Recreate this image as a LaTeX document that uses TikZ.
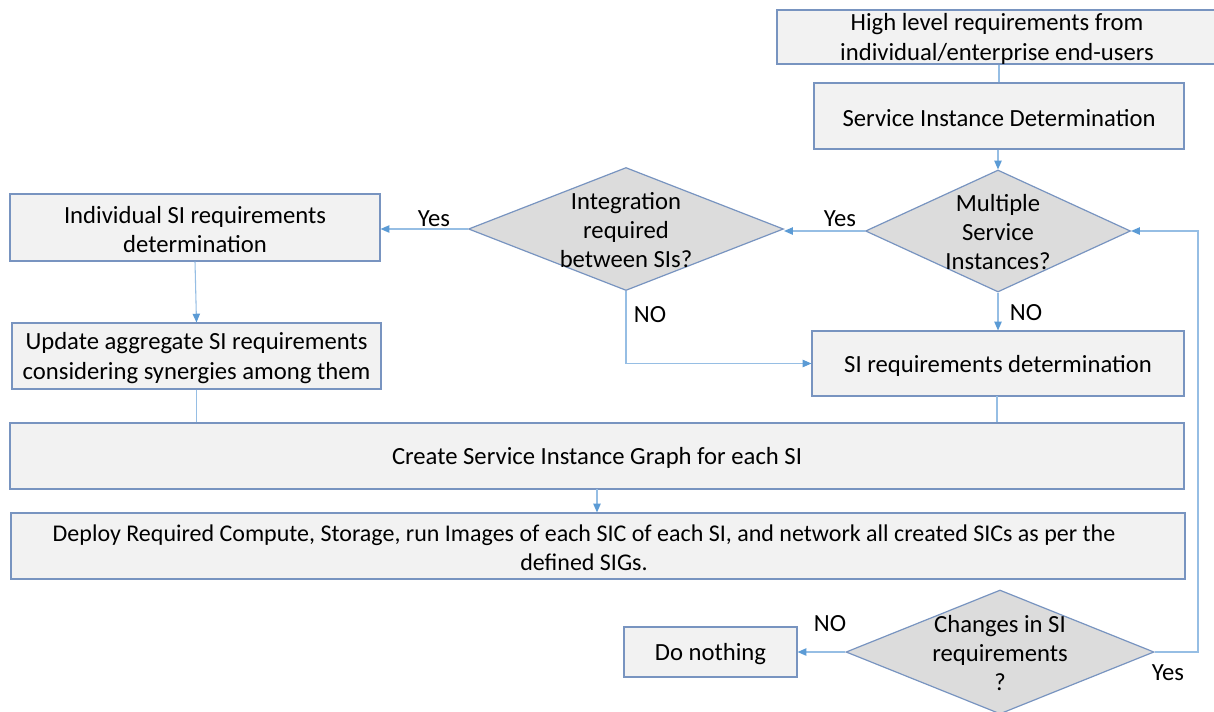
\documentclass[tikz,border=0pt]{standalone}
\usepackage{fontspec}
\setmainfont{Carlito}
\usetikzlibrary{arrows.meta,shapes.geometric}
\newdimen\pxu \pxu=0.75pt
\definecolor{boxfill}{RGB}{242,242,242}
\definecolor{boxborder}{RGB}{120,148,192}
\definecolor{diafill}{RGB}{220,220,220}
\definecolor{lineblue}{RGB}{150,190,228}
\definecolor{tipblue}{RGB}{91,155,213}
\tikzset{
  box/.style={draw=boxborder, fill=boxfill, line width=0.9pt, inner sep=0pt, align=center},
  dia/.style={diamond, draw=boxborder, fill=diafill, line width=0.9pt, inner sep=0pt, shape aspect=2},
  txt/.style={inner sep=0pt, align=center},
  conn/.style={draw=lineblue, line width=0.8pt},
  arr/.style={conn, -{Triangle[length=6.5pt,width=5.5pt,color=tipblue,fill=tipblue]}},
  lab/.style={inner sep=0pt}
}
\begin{document}
\begin{tikzpicture}[x=0.75pt,y=-0.75pt, font=\fontsize{18.5}{22}\selectfont]
\useasboundingbox[fill=white] (0,0) rectangle (1214,711);

% boxes
\node[box, minimum width={440\pxu}, minimum height={54\pxu}] (hl) at (997,37) {};
\node[txt] (hltxt) at (997,39) {High level requirements from\\individual/enterprise end-users};
\node[box, minimum width={370\pxu}, minimum height={66\pxu}] (sid) at (999,116) {};
\node[txt] (sidtxt) at (999,118) {Service Instance Determination};
\node[box, minimum width={370\pxu}, minimum height={67\pxu}] (indiv) at (195,227.5) {};
\node[txt] (indivtxt) at (195,229.5) {Individual SI requirements\\determination};
\node[box, minimum width={369\pxu}, minimum height={66\pxu}] (update) at (196.5,356) {};
\node[txt] (updatetxt) at (196.5,358) {Update aggregate SI requirements\\considering synergies among them};
\node[box, minimum width={372\pxu}, minimum height={65\pxu}] (sireq) at (998,363.5) {};
\node[txt] (sireqtxt) at (998,365.5) {SI requirements determination};
\node[box, minimum width={1174\pxu}, minimum height={66\pxu}] (create) at (597,456) {};
\node[txt] (createtxt) at (597,458) {Create Service Instance Graph for each SI};
\node[box, minimum width={1174\pxu}, minimum height={66\pxu}] (deploy) at (598,546) {};
\node[txt, font=\fontsize{18}{22}\selectfont] (deploytxt) at (584,548) {Deploy Required Compute, Storage, run Images of each SIC of each SI, and network all created SICs as per the\\defined SIGs.};
\node[box, minimum width={173\pxu}, minimum height={50\pxu}] (nothing) at (710.5,652) {};
\node[txt] (nothingtxt) at (710.5,654) {Do nothing};

% diamonds
\node[dia, minimum width={265\pxu}, minimum height={122\pxu}] (multi) at (998,231) {};
\node[txt] (multitxt) at (998,232) {Multiple\\Service\\Instances?};
\node[dia, minimum width={315\pxu}, minimum height={123\pxu}] (integ) at (626,229) {};
\node[txt] (integtxt) at (626,230) {Integration\\required\\between SIs?};
\node[dia, minimum width={308\pxu}, minimum height={124\pxu}] (changes) at (1000,652) {};
\node[txt] (changestxt) at (1000,653) {Changes in SI\\requirements\\?};

% connectors
\draw[conn] (sid.north) -- (sid.north |- hl.south);
\draw[arr] (sid.south -| multi.north) -- (multi.north);
\draw[arr] (multi.west) -- (multi.west -| integ.east);
\draw[arr] (integ.west) -- (integ.west -| indiv.east);
\draw[arr] (multi.south) -- (multi.south |- sireq.north);
\draw[arr] (integ.south) -- (integ.south |- sireq.west) -- (sireq.west);
\draw[arr] (indiv.south) -- (update.north);
\draw[conn] (update.south) -- (update.south |- create.north);
\coordinate (sireqdown) at (997,396);
\draw[conn] (sireqdown) -- (sireqdown |- create.north);
\coordinate (createdown) at (597,489);
\draw[arr] (createdown) -- (createdown |- deploy.north);
\draw[arr] (changes.west) -- (nothing.east);
\coordinate (loopcorner) at (1198,652);
\draw[arr] (changes.east) -- (loopcorner) -- (loopcorner |- multi.east) -- (multi.east);

% labels
\node[lab] (yes1) at (434,219) {Yes};
\node[lab] (yes2) at (840,219) {Yes};
\node[lab] (no1) at (650,315) {NO};
\node[lab] (no2) at (1026,313) {NO};
\node[lab] (no3) at (830,624) {NO};
\node[lab] (yes3) at (1168,673) {Yes};
\end{tikzpicture}
\end{document}
